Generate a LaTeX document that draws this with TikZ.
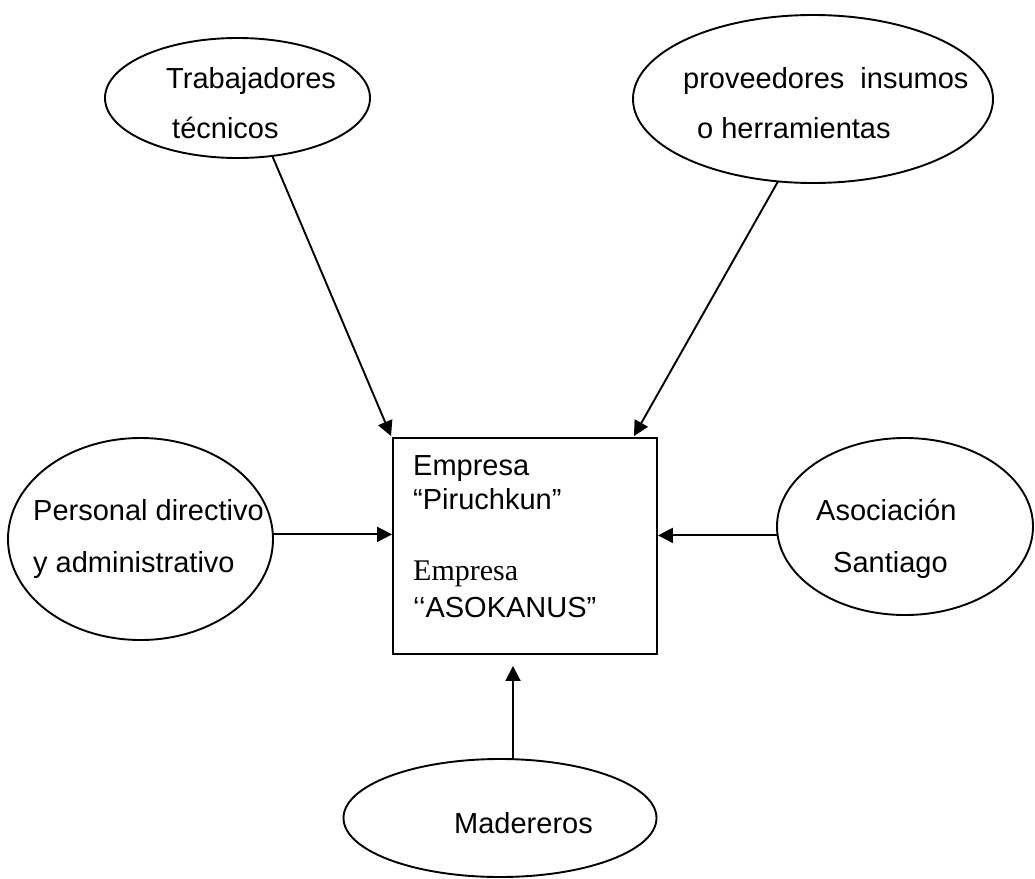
\documentclass[tikz,border=0pt]{standalone}
\usepackage{fontspec}
\setmainfont{Liberation Sans}
\newfontfamily\timesfont{Liberation Serif}
\usetikzlibrary{shapes.geometric,arrows.meta,calc}
\tikzset{
  oval/.style={draw, ellipse, line width=1.9pt, inner sep=0pt, outer sep=0pt},
  lbl/.style={anchor=base west, inner sep=0pt, font=\fontsize{29}{34}\selectfont},
  conn/.style={line width=1.9pt, -{Triangle[length=15pt,width=15pt]}},
}
\begin{document}
\begin{tikzpicture}[x=1pt,y=-1pt]
\useasboundingbox (0,0) rectangle (1035,878);
% ellipses
\node[oval, minimum width=265pt, minimum height=120pt] (trab) at (237.5,98) {};
\node[oval, minimum width=360pt, minimum height=168pt] (prov) at (813,99) {};
\node[oval, minimum width=265pt, minimum height=202pt] (pers) at (140.5,539) {};
\node[oval, minimum width=256pt, minimum height=177pt] (asoc) at (905,526.5) {};
\node[oval, minimum width=313pt, minimum height=118pt] (made) at (500,818) {};
% box
\node[draw, line width=1.9pt, rectangle, inner sep=0pt, minimum width=264pt, minimum height=216pt] (box) at (525,546) {};
% texts
\node[lbl] (t1) at (166,88) {Trabajadores};
\node[lbl] (t2) at (172,138) {técnicos};
\node[lbl] (t3) at (683,88) {proveedores\ \ insumos};
\node[lbl] (t4) at (697,138) {o herramientas};
\node[lbl] (t5) at (33,520) {Personal directivo};
\node[lbl] (t6) at (33,572) {y administrativo};
\node[lbl] (t7) at (816,520) {Asociación};
\node[lbl] (t8) at (833,572) {Santiago};
\node[lbl] (t9) at (454,833) {Madereros};
\node[lbl] (b1) at (413,475) {Empresa};
\node[lbl] (b2) at (413,509) {“Piruchkun”};
\node[lbl, font=\timesfont\fontsize{30}{34}\selectfont] (b3) at (413,580) {Empresa};
\node[lbl] (b4) at (413,617) {‘‘ASOKANUS”};
% connectors
\draw[conn] (trab.-59) -- ([shift={(-1pt,1pt)}]box.north west);
\draw[conn] (prov.-113) -- ([shift={(-24pt,1pt)}]box.north east);
\draw[conn] (pers.2) -- (pers.2 -| box.west);
\draw[conn] (asoc.184) -- (asoc.184 -| box.east);
\coordinate (mtop) at ([xshift=13pt]made.north);
\draw[conn, shorten >=11pt] (mtop) -- (mtop |- box.south);
\end{tikzpicture}
\end{document}
